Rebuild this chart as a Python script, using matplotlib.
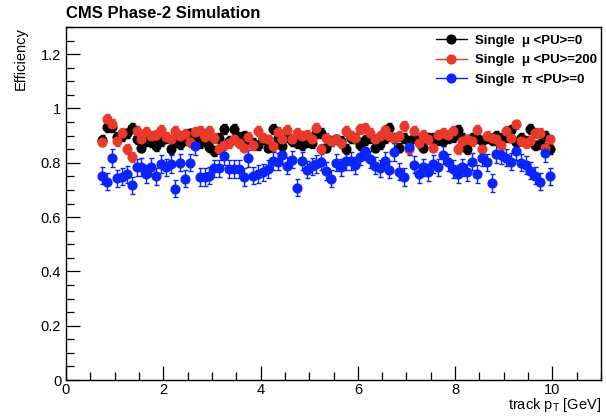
import matplotlib
matplotlib.use("Agg")
import matplotlib.pyplot as plt
from matplotlib.ticker import MultipleLocator, FuncFormatter
from matplotlib.lines import Line2D

plt.rcParams['font.family'] = ['Liberation Sans', 'DejaVu Sans']
plt.rcParams['mathtext.fontset'] = 'custom'
plt.rcParams['mathtext.rm'] = 'Liberation Sans'

pt = [0.75, 0.85, 0.95, 1.05, 1.15, 1.25, 1.35, 1.45, 1.55, 1.65,
      1.75, 1.85, 1.95, 2.05, 2.15, 2.25, 2.35, 2.45, 2.55, 2.65,
      2.75, 2.85, 2.95, 3.05, 3.15, 3.25, 3.35, 3.45, 3.55, 3.65,
      3.75, 3.85, 3.95, 4.05, 4.15, 4.25, 4.35, 4.45, 4.55, 4.65,
      4.75, 4.85, 4.95, 5.05, 5.15, 5.25, 5.35, 5.45, 5.55, 5.65,
      5.75, 5.85, 5.95, 6.05, 6.15, 6.25, 6.35, 6.45, 6.55, 6.65,
      6.75, 6.85, 6.95, 7.05, 7.15, 7.25, 7.35, 7.45, 7.55, 7.65,
      7.75, 7.85, 7.95, 8.05, 8.15, 8.25, 8.35, 8.45, 8.55, 8.65,
      8.75, 8.85, 8.95, 9.05, 9.15, 9.25, 9.35, 9.45, 9.55, 9.65,
      9.75, 9.85, 9.95]

eff_mu_pu0 = [0.885, 0.933, 0.930, 0.895, 0.898, 0.908, 0.928, 0.888, 0.856, 0.880,
              0.875, 0.863, 0.880, 0.890, 0.852, 0.876, 0.870, 0.885, 0.908, 0.890,
              0.874, 0.880, 0.857, 0.843, 0.890, 0.924, 0.880, 0.924, 0.895, 0.898,
              0.886, 0.872, 0.864, 0.886, 0.856, 0.925, 0.890, 0.862, 0.895, 0.880,
              0.874, 0.864, 0.876, 0.874, 0.910, 0.910, 0.856, 0.880, 0.886, 0.880,
              0.850, 0.890, 0.890, 0.864, 0.885, 0.890, 0.856, 0.868, 0.890, 0.928,
              0.890, 0.856, 0.890, 0.880, 0.890, 0.880, 0.856, 0.890, 0.890, 0.885,
              0.880, 0.890, 0.895, 0.920, 0.890, 0.852, 0.890, 0.890, 0.880, 0.890,
              0.885, 0.898, 0.890, 0.895, 0.922, 0.876, 0.890, 0.880, 0.925, 0.864,
              0.868, 0.898, 0.852]

eff_mu_pu200 = [0.878, 0.963, 0.942, 0.879, 0.909, 0.851, 0.821, 0.917, 0.886, 0.913,
                0.900, 0.904, 0.920, 0.896, 0.886, 0.918, 0.898, 0.905, 0.876, 0.912,
                0.916, 0.894, 0.916, 0.892, 0.850, 0.864, 0.874, 0.886, 0.872, 0.856,
                0.896, 0.864, 0.916, 0.892, 0.886, 0.862, 0.913, 0.886, 0.922, 0.886,
                0.910, 0.898, 0.904, 0.886, 0.928, 0.852, 0.892, 0.880, 0.886, 0.874,
                0.916, 0.900, 0.892, 0.925, 0.928, 0.910, 0.886, 0.898, 0.920, 0.898,
                0.892, 0.898, 0.935, 0.850, 0.916, 0.874, 0.904, 0.886, 0.856, 0.904,
                0.910, 0.904, 0.916, 0.852, 0.880, 0.886, 0.880, 0.920, 0.852, 0.898,
                0.892, 0.886, 0.864, 0.916, 0.892, 0.941, 0.880, 0.874, 0.880, 0.910,
                0.910, 0.856, 0.886]

eff_pi_pu0 = [0.753, 0.731, 0.817, 0.743, 0.749, 0.757, 0.717, 0.783, 0.784, 0.759,
              0.785, 0.750, 0.795, 0.783, 0.795, 0.705, 0.800, 0.742, 0.800, 0.860,
              0.747, 0.747, 0.753, 0.779, 0.779, 0.825, 0.777, 0.777, 0.777, 0.747,
              0.816, 0.753, 0.759, 0.765, 0.777, 0.807, 0.804, 0.828, 0.789, 0.811,
              0.708, 0.807, 0.775, 0.787, 0.795, 0.804, 0.770, 0.741, 0.800, 0.783,
              0.807, 0.807, 0.791, 0.823, 0.844, 0.813, 0.789, 0.779, 0.807, 0.775,
              0.840, 0.767, 0.747, 0.859, 0.793, 0.759, 0.783, 0.765, 0.795, 0.783,
              0.828, 0.801, 0.777, 0.759, 0.783, 0.765, 0.804, 0.759, 0.819, 0.801,
              0.726, 0.832, 0.828, 0.819, 0.804, 0.844, 0.800, 0.792, 0.771, 0.753,
              0.731, 0.836, 0.750]

err_mu_pu0 = 0.018
err_mu_pu200 = 0.018
err_pi_pu0 = 0.032

labels = ['Single  μ <PU>=0', 'Single  μ <PU>=200', 'Single  π <PU>=0']
colors = ['#000000', '#e8392b', '#0a24ff']

fig = plt.figure(figsize=(6.06, 4.16), dpi=100)
ax = fig.add_axes([66/606, 1 - 380/416, (601 - 66)/606, (380 - 27)/416])

series = [(eff_mu_pu0, err_mu_pu0), (eff_mu_pu200, err_mu_pu200), (eff_pi_pu0, err_pi_pu0)]
for (vals, err), c, lab in zip(series, colors, labels):
    ax.errorbar(pt, vals, yerr=err, fmt='o', color=c, ms=6.3, mec=c,
                elinewidth=1.0, capsize=1.8, capthick=1.0, label=lab)

ax.set_xlim(0, 11)
ax.set_ylim(0, 1.3)
ax.xaxis.set_major_locator(MultipleLocator(2))
ax.xaxis.set_minor_locator(MultipleLocator(0.5))
ax.yaxis.set_major_locator(MultipleLocator(0.2))
ax.yaxis.set_minor_locator(MultipleLocator(0.05))
ax.yaxis.set_major_formatter(FuncFormatter(lambda v, p: ('%g' % round(v, 2))))
ax.xaxis.set_major_formatter(FuncFormatter(lambda v, p: ('%g' % round(v, 2))))
ax.tick_params(which='both', direction='in', top=False, right=False, labelsize=10.5, width=0.9)
ax.tick_params(which='major', length=10)
ax.tick_params(which='minor', length=5.5)
ax.tick_params(axis='x', pad=2)
for s in ax.spines.values():
    s.set_linewidth(1.0)

leg_handles = [Line2D([0], [0], color=c, marker='o', ms=6.3, lw=1.0) for c in colors]
ax.legend(leg_handles, labels, loc='upper right', bbox_to_anchor=(1.015, 1.012),
          frameon=False, prop={'weight': 'bold', 'size': 9.5}, handlelength=2.4,
          labelspacing=0.55, handletextpad=0.6)

fig.text(66/606, 1 - 13/416, 'CMS Phase-2 Simulation', fontsize=12, fontweight='bold',
         ha='left', va='center')
fig.text(21/606, 1 - 27/416, 'Efficiency', fontsize=10.5, rotation=90, ha='center', va='top')
fig.text(601/606, 1 - 405/416, r'track p$_{\mathregular{T}}$ [GeV]', fontsize=10.5,
         ha='right', va='center')

fig.savefig('out.png', dpi=100)
